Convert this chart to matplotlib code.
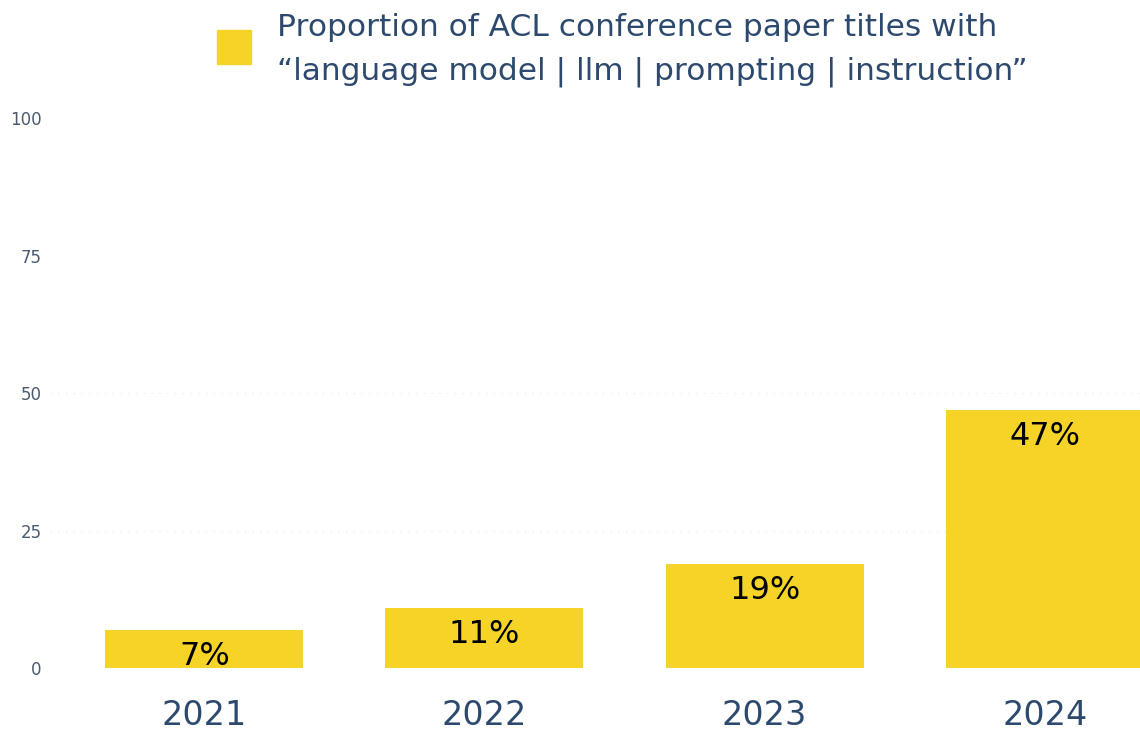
import numpy as np
import matplotlib.pyplot as plt
from matplotlib.patches import Rectangle

# ACL title share per year (%)
years = ["2021", "2022", "2023", "2024"]
share = [7, 11, 19, 47]
y_ticks = [0, 25, 50, 75, 100]
legend_lines = ["Proportion of ACL conference paper titles with",
                "\u201clanguage model | llm | prompting | instruction\u201d"]

bar_color = "#F5D327"
text_blue = "#2D4A6E"

plt.rcParams['font.family'] = ['DejaVu Sans']

W, H = 1140, 732
fig = plt.figure(figsize=(W / 100, H / 100), dpi=100)
ax = fig.add_axes([0.044, 0.0874, 0.956, 0.7514])

x = np.arange(len(years))
bars = ax.bar(x, share, width=0.707, color=bar_color, zorder=2)

# value labels just under the top of each bar
for rect, v in zip(bars, share):
    ax.annotate(f"{v}%", (rect.get_x() + rect.get_width() / 2, v),
                xytext=(0, -8), textcoords="offset points",
                ha="center", va="top", fontsize=23, color="black",
                zorder=3)

# faint dotted guides
for g in [25, 50]:
    ax.axhline(g, color="#e6e6e6", lw=0.8, ls=(0, (1, 6)), zorder=1)

ax.set_xlim(-0.55, 3.34)
ax.set_ylim(0, 100)
ax.set_xticks(x)
ax.set_xticklabels(years, fontsize=24, color=text_blue)
ax.set_yticks(y_ticks)
ax.set_yticklabels([str(t) for t in y_ticks], fontsize=12, color="#4A5A70")
ax.tick_params(length=0)
ax.tick_params(axis="x", pad=22)
ax.tick_params(axis="y", pad=6)
for s in ax.spines.values():
    s.set_visible(False)

# legend: yellow swatch with a two-line caption
fig.patches.append(Rectangle((217 / W, 1 - 64 / H), 34 / W, 34 / H,
                             transform=fig.transFigure, color=bar_color))
fig.text(277 / W, 1 - 27 / H, legend_lines[0], fontsize=22.5,
         color=text_blue, va="center", ha="left")
fig.text(277 / W, 1 - 72 / H, legend_lines[1], fontsize=22.5,
         color=text_blue, va="center", ha="left")

fig.savefig("out.png", dpi=100)
